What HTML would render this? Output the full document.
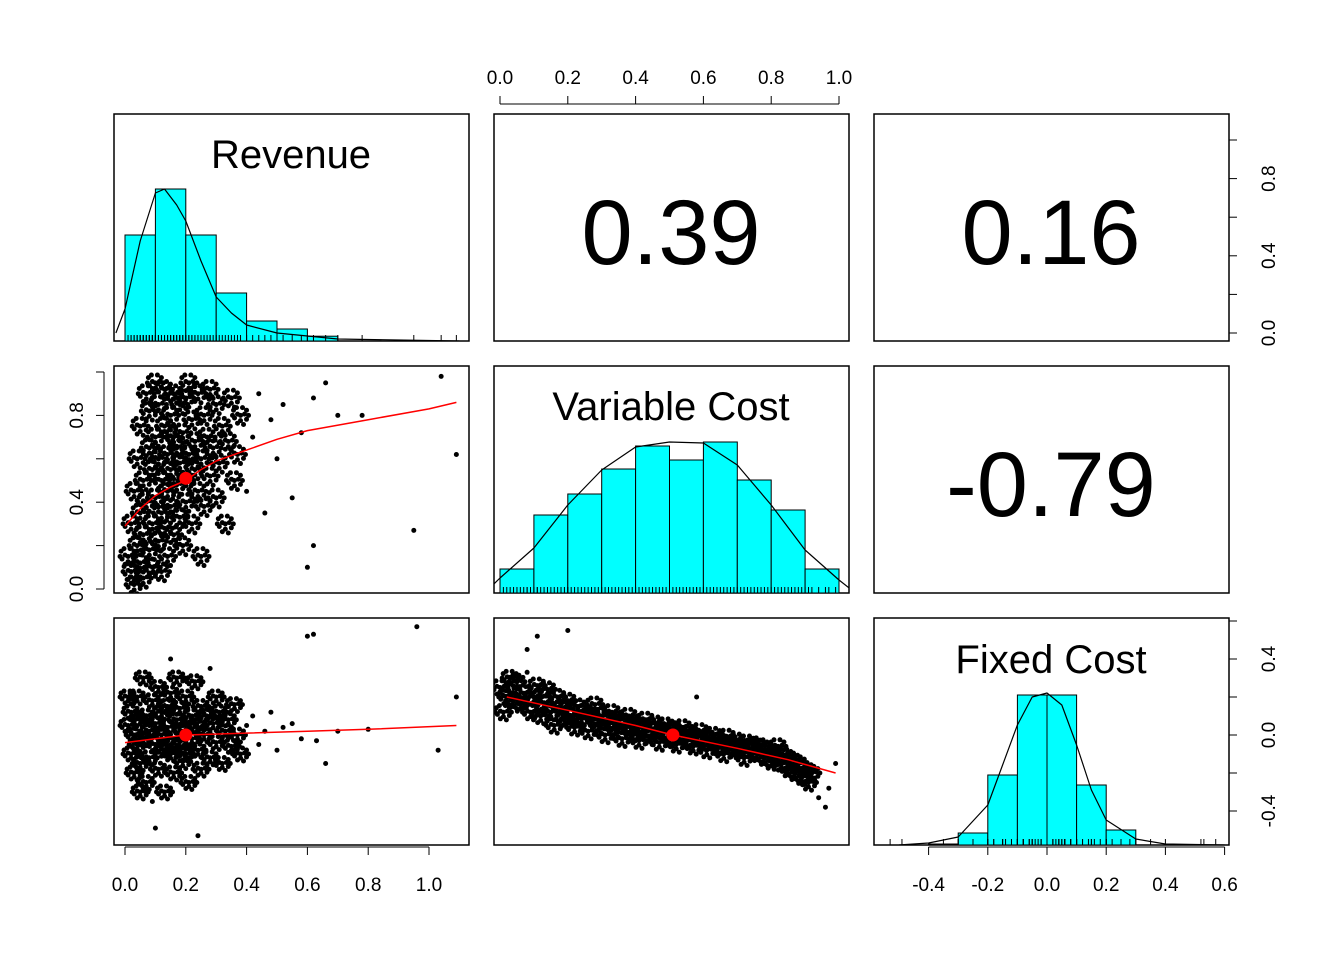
<!DOCTYPE html>
<html><head><meta charset="utf-8"><style>
html,body{margin:0;padding:0;background:#fff;}
svg{display:block;font-family:"Liberation Sans",Arial,sans-serif;}
</style></head><body>
<svg id="chart" width="1344" height="960" xmlns="http://www.w3.org/2000/svg"></svg>
<script>
// ---------- data ----------
const varNames = ["Revenue", "Variable Cost", "Fixed Cost"];
const corrValues = ["0.39", "0.16", "-0.79"];
const revBinStart = [0.0, 0.1, 0.2, 0.3, 0.4, 0.5, 0.6];
const revBinCounts = [265, 380, 265, 120, 50, 30, 12];
const revDensX = [-0.03, 0, 0.05, 0.1, 0.13, 0.17, 0.2, 0.25, 0.3, 0.35, 0.4, 0.5, 0.7, 1.1];
const revDensY = [20, 80, 250, 370, 380, 340, 300, 200, 110, 70, 40, 20, 5, 0];
const vcBinStart = [0.0, 0.1, 0.2, 0.3, 0.4, 0.5, 0.6, 0.7, 0.8, 0.9];
const vcBinCounts = [24, 78, 99, 124, 147, 133, 151, 113, 83, 24];
const vcDensX = [-0.03, 0, 0.1, 0.2, 0.3, 0.4, 0.5, 0.6, 0.7, 0.8, 0.9, 1.0, 1.03];
const vcDensY = [5, 15, 45, 88, 123, 146, 151, 150, 128, 88, 43, 13, 5];
const fcBinStart = [-0.4, -0.3, -0.2, -0.1, 0.0, 0.1, 0.2];
const fcBinCounts = [1, 12, 70, 150, 150, 60, 15];
const fcDensX = [-0.5, -0.4, -0.3, -0.2, -0.15, -0.1, -0.05, 0, 0.05, 0.1, 0.15, 0.2, 0.3, 0.4, 0.6];
const fcDensY = [0, 2, 8, 40, 80, 120, 148, 152, 140, 100, 55, 25, 6, 1, 0];

const revVc = [[0.01,0.15],[0.02,0.08],[0.02,0.3],[0.03,0.02],[0.03,0.45],[0.04,0.2],[0.04,0.6],[0.05,0.12],[0.05,0.35],[0.05,0.75],[0.06,0.05],[0.06,0.25],[0.06,0.5],[0.07,0.9],[0.07,0.4],[0.08,0.18],[0.08,0.65],[0.08,0.82],[0.09,0.1],[0.09,0.3],[0.09,0.55],[0.1,0.42],[0.1,0.7],[0.1,0.95],[0.11,0.22],[0.11,0.6],[0.11,0.85],[0.12,0.08],[0.12,0.35],[0.12,0.5],[0.13,0.75],[0.13,0.28],[0.13,0.92],[0.14,0.45],[0.14,0.62],[0.14,0.15],[0.15,0.8],[0.15,0.38],[0.15,0.55],[0.16,0.7],[0.16,0.25],[0.16,0.9],[0.17,0.48],[0.17,0.65],[0.18,0.33],[0.18,0.85],[0.18,0.58],[0.19,0.2],[0.19,0.72],[0.2,0.5],[0.2,0.88],[0.2,0.4],[0.21,0.62],[0.21,0.95],[0.22,0.3],[0.22,0.78],[0.23,0.55],[0.23,0.68],[0.24,0.45],[0.24,0.9],[0.25,0.6],[0.25,0.15],[0.26,0.8],[0.26,0.38],[0.27,0.7],[0.28,0.52],[0.28,0.92],[0.29,0.65],[0.3,0.85],[0.3,0.42],[0.31,0.58],[0.32,0.75],[0.33,0.3],[0.34,0.68],[0.35,0.88],[0.36,0.5],[0.37,0.62],[0.38,0.8],[0.4,0.45],[0.42,0.7],[0.44,0.9],[0.46,0.35],[0.48,0.78],[0.5,0.6],[0.52,0.85],[0.55,0.42],[0.58,0.72],[0.6,0.1],[0.62,0.2],[0.62,0.88],[0.66,0.95],[0.7,0.8],[0.78,0.8],[0.95,0.27],[1.04,0.98],[1.09,0.62]];
const revFc = [[0.01,0.05],[0.02,-0.1],[0.02,0.12],[0.03,-0.2],[0.03,0.0],[0.04,0.2],[0.04,-0.05],[0.05,0.08],[0.05,-0.15],[0.06,0.3],[0.06,-0.02],[0.07,0.1],[0.07,-0.25],[0.08,0.02],[0.08,-0.12],[0.09,0.18],[0.09,-0.35],[0.1,-0.05],[0.1,0.06],[0.11,0.25],[0.11,-0.18],[0.12,0.0],[0.12,0.12],[0.13,-0.08],[0.13,-0.3],[0.14,0.15],[0.14,0.04],[0.15,-0.1],[0.15,0.22],[0.16,-0.02],[0.16,-0.2],[0.17,0.08],[0.17,0.3],[0.18,-0.06],[0.18,0.14],[0.19,-0.14],[0.19,0.02],[0.2,0.2],[0.2,-0.1],[0.21,0.06],[0.21,-0.25],[0.22,0.1],[0.22,-0.02],[0.23,0.28],[0.24,-0.08],[0.24,0.04],[0.25,0.15],[0.25,-0.18],[0.26,0.0],[0.27,0.1],[0.28,-0.12],[0.29,0.06],[0.3,0.2],[0.3,-0.04],[0.31,0.12],[0.32,-0.15],[0.33,0.02],[0.34,0.08],[0.35,-0.06],[0.36,0.16],[0.37,0.0],[0.38,-0.1],[0.4,0.05],[0.42,0.1],[0.44,-0.05],[0.46,0.02],[0.48,0.12],[0.5,-0.08],[0.52,0.04],[0.55,0.06],[0.58,-0.02],[0.6,0.52],[0.62,0.53],[0.63,-0.03],[0.66,-0.15],[0.7,0.02],[0.8,0.03],[0.96,0.57],[1.03,-0.08],[1.09,0.2],[0.1,-0.49],[0.24,-0.53],[0.01,0.2],[0.15,0.4],[0.28,0.35],[0.05,-0.3]];
const vcFc = [[0.0,0.25],[0.01,0.12],[0.02,0.2],[0.03,0.3],[0.04,0.18],[0.05,0.28],[0.06,0.16],[0.07,0.22],[0.08,0.33],[0.09,0.12],[0.1,0.2],[0.11,0.26],[0.12,0.1],[0.13,0.17],[0.14,0.24],[0.15,0.12],[0.16,0.05],[0.17,0.2],[0.18,0.14],[0.19,0.08],[0.2,0.18],[0.21,0.1],[0.22,0.04],[0.23,0.15],[0.24,0.09],[0.25,0.12],[0.26,0.02],[0.27,0.1],[0.28,0.16],[0.29,0.05],[0.3,0.1],[0.31,0.0],[0.32,0.07],[0.33,0.12],[0.34,0.03],[0.35,0.08],[0.36,-0.02],[0.37,0.05],[0.38,0.1],[0.39,0.01],[0.4,0.06],[0.41,-0.03],[0.42,0.04],[0.43,0.08],[0.44,-0.01],[0.45,0.03],[0.46,0.06],[0.47,-0.04],[0.48,0.02],[0.49,0.05],[0.5,-0.02],[0.51,0.03],[0.52,-0.05],[0.53,0.0],[0.54,0.04],[0.55,-0.03],[0.56,0.01],[0.57,-0.06],[0.58,-0.01],[0.59,0.02],[0.6,-0.04],[0.61,-0.08],[0.62,-0.02],[0.63,0.0],[0.64,-0.06],[0.65,-0.03],[0.66,-0.1],[0.67,-0.01],[0.68,-0.05],[0.69,-0.08],[0.7,-0.03],[0.71,-0.07],[0.72,-0.12],[0.73,-0.04],[0.74,-0.08],[0.75,-0.05],[0.76,-0.1],[0.77,-0.06],[0.78,-0.12],[0.79,-0.08],[0.8,-0.14],[0.81,-0.1],[0.82,-0.06],[0.83,-0.15],[0.84,-0.11],[0.85,-0.18],[0.86,-0.13],[0.87,-0.2],[0.88,-0.15],[0.89,-0.22],[0.9,-0.18],[0.91,-0.25],[0.92,-0.2],[0.94,-0.33],[0.96,-0.38],[0.97,-0.28],[0.99,-0.15],[0.08,0.45],[0.11,0.52],[0.2,0.55],[0.58,0.2]];
const loessRevVcX = [0.0, 0.05, 0.1, 0.15, 0.2, 0.25, 0.3, 0.4, 0.5, 0.6, 0.8, 1.0, 1.09];
const loessRevVcY = [0.29, 0.37, 0.43, 0.47, 0.50, 0.55, 0.59, 0.64, 0.69, 0.73, 0.78, 0.83, 0.86];
const loessRevFcX = [0.0, 0.1, 0.2, 0.4, 0.6, 0.8, 1.09];
const loessRevFcY = [-0.04, -0.02, 0.0, 0.01, 0.02, 0.03, 0.05];
const loessVcFcX = [0.02, 0.2, 0.4, 0.51, 0.7, 0.85, 0.99];
const loessVcFcY = [0.2, 0.13, 0.05, 0.0, -0.07, -0.13, -0.2];
const meanRev = 0.2, meanVc = 0.51, meanFc = 0.0;
const tickRev = [0.0, 0.2, 0.4, 0.6, 0.8, 1.0];
const tickVc = [0.0, 0.2, 0.4, 0.6, 0.8, 1.0];
const tickFc = [-0.4, -0.2, 0.0, 0.2, 0.4, 0.6];
const tickDens = [0, 0.2, 0.4, 0.6, 0.8, 1.0];
const tickFcRight = [-0.4, -0.2, 0.0, 0.2, 0.4, 0.6];

const NS = "http://www.w3.org/2000/svg";
const svg = document.getElementById("chart");
function el(tag, attrs, parent) {
  const e = document.createElementNS(NS, tag);
  for (const k in attrs) e.setAttribute(k, attrs[k]);
  (parent || svg).appendChild(e);
  return e;
}
const colX = [114, 494, 874], rowY = [114, 366, 618], PW = 355, PH = 227;
const xRev = v => 125 + v * 304;
const xVc = v => 500 + v * 339;
const xFc = v => 1047 + v * 296;
const yVc = v => 589 - v * 217;
const yFc = v => 735 - v * 190;
const yRevDens = (c) => 341 - c * 0.4;
const yVcDens = (c) => 593 - c;
const yFcDens = (c) => 845 - c;

for (let r = 0; r < 3; r++) for (let c = 0; c < 3; c++) {
  const f = el("rect", {x: colX[c], y: rowY[r], width: PW, height: PH, fill: "none", stroke: "#000", "stroke-width": 1.5});
  
  
}

function clip(id, c, r) {
  const cp = el("clipPath", {id: id});
  el("rect", {x: colX[c], y: rowY[r], width: PW, height: PH}, cp);
}
clip("c11", 0, 0); clip("c22", 1, 1); clip("c33", 2, 2);
clip("c21", 0, 1); clip("c31", 0, 2); clip("c32", 1, 2);

function hist(starts, counts, w, xf, yf, base, cid, name) {
  const g = el("g", {"clip-path": "url(#" + cid + ")"});
  
  
  starts.forEach((s, i) => {
    const x0 = xf(s), x1 = xf(s + w), y = yf(counts[i]);
    const b = el("rect", {x: x0, y: y, width: x1 - x0, height: base - y, fill: "#00ffff", stroke: "#000", "stroke-width": 1}, g);
    
    
  });
}
function line(xs, ys, xf, yf, color, cid, name, sw) {
  const d = xs.map((x, i) => (i ? "L" : "M") + xf(x).toFixed(1) + "," + yf(ys[i]).toFixed(1)).join("");
  const p = el("path", {d: d, fill: "none", stroke: color, "stroke-width": sw || 1.2, "stroke-linejoin": "round", "clip-path": "url(#" + cid + ")"});
  
  
}
function rug(vals, xf, base, cid, name) {
  const g = el("g", {"clip-path": "url(#" + cid + ")", stroke: "#000", "stroke-width": 1});
  
  
  vals.forEach(v => el("line", {x1: xf(v), x2: xf(v), y1: base, y2: base - 6}, g));
}
const offs = [[0,0],[6,3],[-6,2],[2,-6],[-4,-6],[6,-4],[-7,-4],[3,7],[-3,6],[8,0],[-8,0],[0,4],[4,-1],[-3,-1]];
function scatter(pts, xf, yf, cid, name, isDense, scaleY) {
  const g = el("g", {"clip-path": "url(#" + cid + ")", fill: "#000"});
  
  
  pts.forEach(p => {
    const cx = xf(p[0]), cy = yf(p[1]);
    (isDense(p) ? offs : offs.slice(0, 1)).forEach(o => el("circle", {cx: cx + o[0], cy: cy + o[1] * scaleY, r: 2.5}, g));
  });
}

hist(revBinStart, revBinCounts, 0.1, xRev, yRevDens, 341, "c11", "revenue-histogram");
rug(revVc.map(p => p[0]), xRev, 341, "c11", "revenue-rug");
line(revDensX, revDensY, xRev, yRevDens, "#000", "c11", "revenue-density");
hist(vcBinStart, vcBinCounts, 0.1, xVc, yVcDens, 593, "c22", "variable-cost-histogram");
rug(vcFc.map(p => p[0]), xVc, 593, "c22", "variable-cost-rug");
line(vcDensX, vcDensY, xVc, yVcDens, "#000", "c22", "variable-cost-density");
hist(fcBinStart, fcBinCounts, 0.1, xFc, yFcDens, 845, "c33", "fixed-cost-histogram");
rug(revFc.map(p => p[1]), xFc, 845, "c33", "fixed-cost-rug");
line(fcDensX, fcDensY, xFc, yFcDens, "#000", "c33", "fixed-cost-density");

scatter(revVc, xRev, yVc, "c21", "scatter-revenue-vc", p => p[0] < 0.39, 1.3);
line(loessRevVcX, loessRevVcY, xRev, yVc, "#ff0000", "c21", "loess-revenue-vc", 1.5);
scatter(revFc, xRev, yFc, "c31", "scatter-revenue-fc", p => p[0] < 0.39 && Math.abs(p[1]) < 0.32, 1.0);
line(loessRevFcX, loessRevFcY, xRev, yFc, "#ff0000", "c31", "loess-revenue-fc", 1.5);
scatter(vcFc, xVc, yFc, "c32", "scatter-vc-fc", p => p[0] < 0.93 && Math.abs(p[1] - (0.22 - 0.42 * p[0])) < 0.12, 1.1);
line(loessVcFcX, loessVcFcY, xVc, yFc, "#ff0000", "c32", "loess-vc-fc", 1.5);
[[xRev(meanRev), yVc(meanVc)], [xRev(meanRev), yFc(meanFc)], [xVc(meanVc), yFc(meanFc)]].forEach(m => {
  const c = el("circle", {cx: m[0], cy: m[1], r: 6.5, fill: "#ff0000"});
  
  
});

[[291, 154], [671, 406], [1051, 659]].forEach((p, i) => {
  const t = el("text", {x: p[0], y: p[1] + 14, "font-size": 40, "text-anchor": "middle"});
  t.textContent = varNames[i];
  
  
});
[[671, 230], [1051, 230], [1051, 482]].forEach((p, i) => {
  const t = el("text", {x: p[0], y: p[1] + 34, "font-size": 92, "text-anchor": "middle"});
  t.textContent = corrValues[i];
  
  
});

function hAxis(ticks, f, y, dir, name) {
  const g = el("g", {stroke: "#000", "stroke-width": 1});
  
  
  el("line", {x1: f(ticks[0]), x2: f(ticks[ticks.length - 1]), y1: y, y2: y}, g);
  ticks.forEach(t => {
    el("line", {x1: f(t), x2: f(t), y1: y, y2: y + dir * 8}, g);
    const tx = el("text", {x: f(t), y: dir > 0 ? y + 44 : y - 20, "font-size": 19, "text-anchor": "middle", stroke: "none", fill: "#000"});
    tx.textContent = t.toFixed(1);
  });
}
function vAxis(ticks, f, x, dir, name) {
  const g = el("g", {stroke: "#000", "stroke-width": 1});
  
  
  el("line", {x1: x, x2: x, y1: f(ticks[0]), y2: f(ticks[ticks.length - 1])}, g);
  ticks.forEach((t, i) => {
    el("line", {x1: x, x2: x + dir * 8, y1: f(t), y2: f(t)}, g);
    if (i % 2 === 0) {
      const lx = dir < 0 ? x - 21 : x + 46;
      const tx = el("text", {x: lx, y: f(t), "font-size": 19, "text-anchor": "middle", stroke: "none", fill: "#000", transform: "rotate(-90 " + lx + " " + f(t) + ")"});
      tx.textContent = t.toFixed(1);
    }
  });
}
hAxis(tickRev, xRev, 847, 1, "x-axis-revenue");
hAxis(tickVc, xVc, 104, -1, "x-axis-variable-cost");
hAxis(tickFc, xFc, 847, 1, "x-axis-fixed-cost");
vAxis(tickDens, yVc, 104, -1, "y-axis-variable-cost");
const yRight1 = v => 333 - v * 193;
vAxis(tickDens, yRight1, 1229, 1, "y-axis-right-top");
vAxis(tickFcRight, yFc, 1229, 1, "y-axis-fixed-cost");
</script>
</body></html>
